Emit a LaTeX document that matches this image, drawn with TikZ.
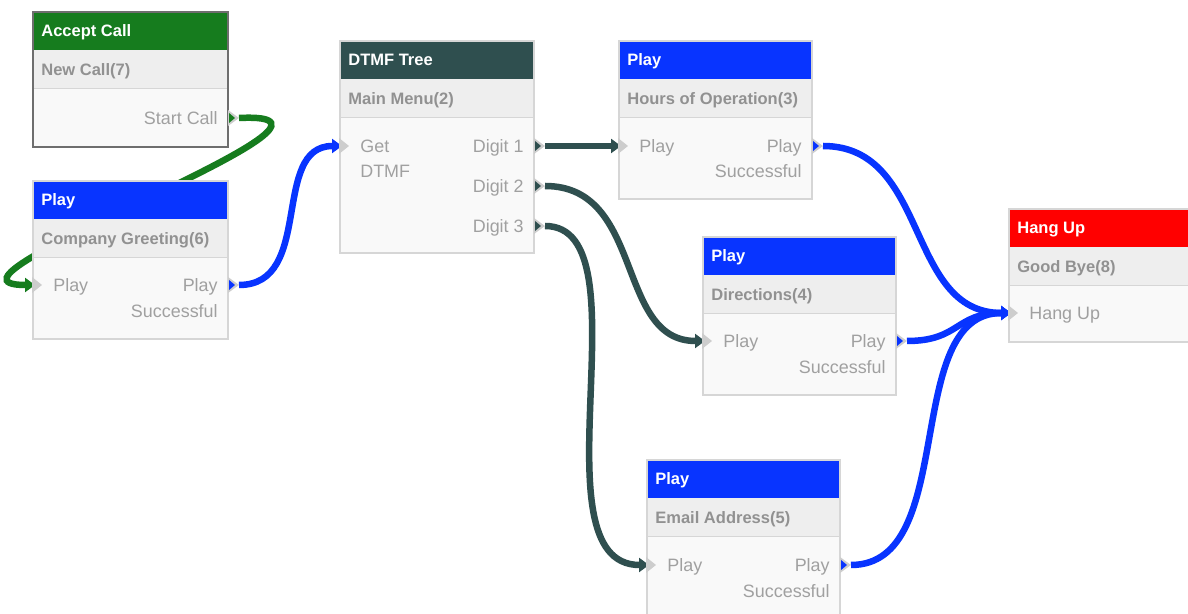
\documentclass[tikz,border=0pt]{standalone}
\usepackage{fontspec}
\setmainfont{Liberation Sans}
\usetikzlibrary{arrows.meta}
\definecolor{hdgreen}{RGB}{22,124,30}
\definecolor{hdblue}{RGB}{8,52,255}
\definecolor{hdslate}{RGB}{47,79,79}
\definecolor{hdred}{RGB}{255,0,0}
\definecolor{subgray}{RGB}{238,238,238}
\definecolor{bodygray}{RGB}{249,249,249}
\definecolor{edgegray}{RGB}{214,214,214}
\definecolor{darkedge}{RGB}{110,110,110}
\definecolor{subtxt}{RGB}{145,145,145}
\definecolor{lbltxt}{RGB}{160,160,160}
\definecolor{portgray}{RGB}{205,205,205}
\pgfdeclarelayer{bg}\pgfdeclarelayer{wires}
\pgfsetlayers{bg,wires,main}
\tikzset{
  card/.style={fill=bodygray, anchor=north west, inner sep=0pt, outer sep=0pt},
  headbar/.style={anchor=north west, inner sep=0pt, outer sep=0pt, minimum height=0.76cm},
  subbar/.style={fill=subgray, anchor=north west, inner sep=0pt, outer sep=0pt, minimum height=0.78cm},
  hdtext/.style={anchor=base west, inner sep=0pt, text=white, font=\bfseries\fontsize{9.4}{11}\selectfont},
  subtext/.style={anchor=base west, inner sep=0pt, text=subtxt, font=\bfseries\fontsize{9.4}{11}\selectfont},
  lbl/.style={inner sep=0pt, text=lbltxt, font=\fontsize{10.2}{12}\selectfont},
  wire/.style={line width=0.13cm, -{Triangle[length=0.2cm,width=0.28cm]}},
}
% name, x, y, w, h, header colour, title, subtitle, border colour
\newcommand\flowcard[9]{%
  \node[card, minimum width=#4*0.02cm, minimum height=#5*0.02cm] (#1) at (#2,#3) {};
  \node[headbar, fill=#6, minimum width=#4*0.02cm] (#1-head) at (#1.north west) {};
  \node[hdtext] (#1-title) at ([xshift=0.16cm,yshift=-0.12cm]#1-head.west) {#7};
  \node[subbar, minimum width=#4*0.02cm] (#1-sub) at (#1-head.south west) {};
  \node[subtext] (#1-subtitle) at ([xshift=0.16cm,yshift=-0.12cm]#1-sub.west) {#8};
  \draw[edgegray, line width=0.02cm] (#1-sub.south west) -- (#1-sub.south east);
  \draw[#9, line width=0.025cm] (#1.north west) rectangle (#1.south east);
}
% name, anchor side, x, y(centre), text
\newcommand\flowlabel[5]{%
  \node[lbl, anchor=base #2] (#1) at (#3,#4+6.5) {#5};
}
% output port: name, x, y, colour
\newcommand\outport[4]{%
  \fill[portgray] (#2,#3-8) -- (#2+11,#3) -- (#2,#3+8) -- cycle;
  \fill[#4] (#2+1,#3-5) -- (#2+7,#3) -- (#2+1,#3+5) -- cycle;
  \coordinate (#1) at (#2+11,#3);
}
% input port: name, x, y
\newcommand\inport[3]{%
  \fill[portgray] (#2-1,#3-8) -- (#2+9,#3) -- (#2-1,#3+8) -- cycle;
  \coordinate (#1) at (#2+2,#3);
}
\begin{document}
\begin{tikzpicture}[x=0.02cm, y=-0.02cm]
\useasboundingbox (0,0) rectangle (1188,614);
\begin{pgfonlayer}{bg}
  \fill[white] (0,0) rectangle (1188,614);
\end{pgfonlayer}

% ---------- cards ----------
\flowcard{acc}{33}{12}{195}{135}{hdgreen}{Accept Call}{New Call(7)}{darkedge}
\flowlabel{acc-l1}{east}{218}{118}{Start Call}
\outport{acc-out}{228}{118}{hdgreen}

\flowcard{greet}{33}{181}{195}{158}{hdblue}{Play}{Company Greeting(6)}{edgegray}
\flowlabel{greet-l1}{west}{53}{285}{Play}
\flowlabel{greet-r1}{east}{218}{285}{Play}
\flowlabel{greet-r2}{east}{218}{311}{Successful}
\inport{greet-in}{33}{285}
\outport{greet-out}{228}{285}{hdblue}

\flowcard{dtmf}{340}{41}{194}{212}{hdslate}{DTMF Tree}{Main Menu(2)}{edgegray}
\flowlabel{dtmf-l1}{west}{360}{146}{Get}
\flowlabel{dtmf-l2}{west}{360}{171}{DTMF}
\flowlabel{dtmf-r1}{east}{524}{146}{Digit 1}
\flowlabel{dtmf-r2}{east}{524}{186}{Digit 2}
\flowlabel{dtmf-r3}{east}{524}{226}{Digit 3}
\inport{dtmf-in}{340}{146}
\outport{dtmf-o1}{534}{146}{hdslate}
\outport{dtmf-o2}{534}{186}{hdslate}
\outport{dtmf-o3}{534}{226}{hdslate}

\flowcard{hours}{619}{41}{193}{158}{hdblue}{Play}{Hours of Operation(3)}{edgegray}
\flowlabel{hours-l1}{west}{639}{146}{Play}
\flowlabel{hours-r1}{east}{802}{146}{Play}
\flowlabel{hours-r2}{east}{802}{171}{Successful}
\inport{hours-in}{619}{146}
\outport{hours-out}{812}{146}{hdblue}

\flowcard{dirs}{703}{237}{193}{158}{hdblue}{Play}{Directions(4)}{edgegray}
\flowlabel{dirs-l1}{west}{723}{341}{Play}
\flowlabel{dirs-r1}{east}{886}{341}{Play}
\flowlabel{dirs-r2}{east}{886}{367}{Successful}
\inport{dirs-in}{703}{341}
\outport{dirs-out}{896}{341}{hdblue}

\flowcard{hang}{1009}{209}{200}{133}{hdred}{Hang Up}{Good Bye(8)}{edgegray}
\flowlabel{hang-l1}{west}{1029}{313}{Hang Up}
\inport{hang-in}{1009}{313}

\flowcard{email}{647}{460}{193}{170}{hdblue}{Play}{Email Address(5)}{edgegray}
\flowlabel{email-l1}{west}{667}{565}{Play}
\flowlabel{email-r1}{east}{830}{565}{Play}
\flowlabel{email-r2}{east}{830}{591}{Successful}
\inport{email-in}{647}{565}
\outport{email-out}{840}{565}{hdblue}

% ---------- connectors ----------
\begin{pgfonlayer}{wires}
  \draw[wire, draw=hdgreen] (acc-out) .. controls (400,110) and (-95,285) .. (greet-in);
  \draw[wire, draw=hdblue] (greet-out) .. controls (315,285) and (270,146) .. (dtmf-in);
  \draw[wire, draw=hdslate] (dtmf-o1) -- (hours-in);
  \draw[wire, draw=hdslate] (dtmf-o2) .. controls (645,186) and (615,341) .. (dirs-in);
  \draw[wire, draw=hdslate] (dtmf-o3) .. controls (650,226) and (530,565) .. (email-in);
  \draw[wire, draw=hdblue] (hours-out) .. controls (930,146) and (905,313) .. (hang-in);
  \draw[wire, draw=hdblue] (dirs-out) .. controls (960,341) and (955,313) .. (hang-in);
  \draw[wire, draw=hdblue] (email-out) .. controls (960,565) and (900,313) .. (hang-in);
\end{pgfonlayer}
\end{tikzpicture}
\end{document}
